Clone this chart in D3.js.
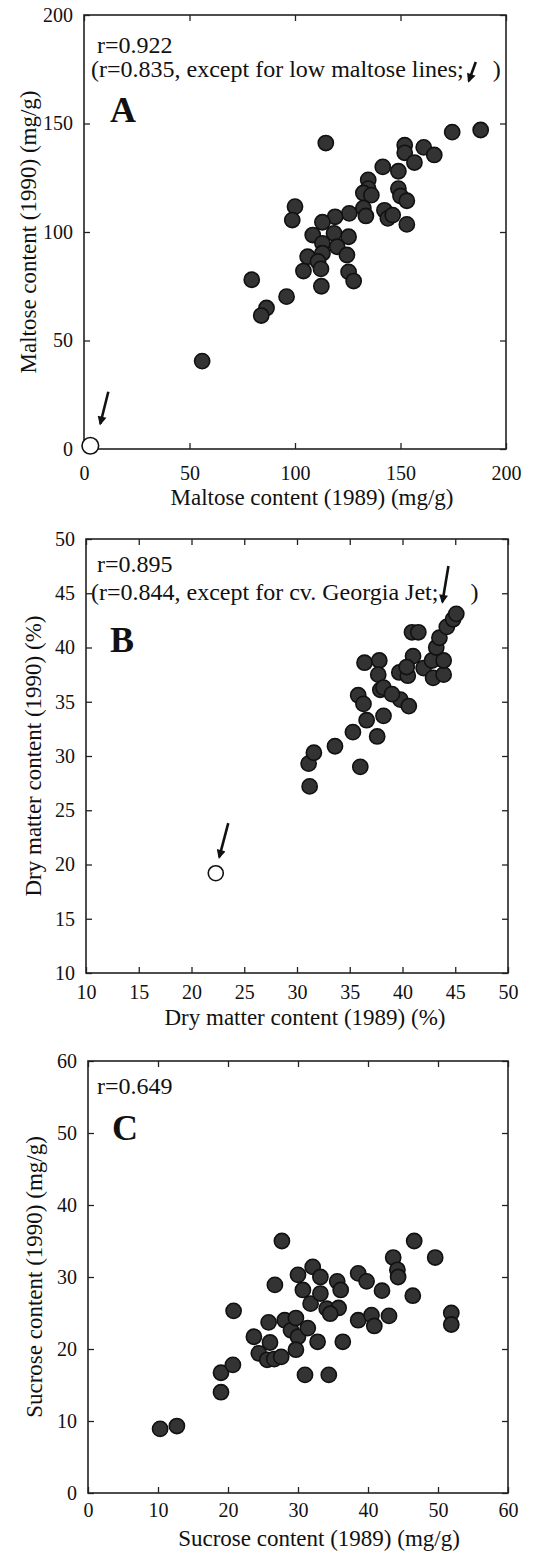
<!DOCTYPE html>
<html>
<head>
<meta charset="utf-8">
<script src="https://cdnjs.cloudflare.com/ajax/libs/d3/7.8.5/d3.min.js"></script>
<style>
  body { margin: 0; background: #fff; }
  svg text { font-family: "Liberation Serif", "Times New Roman", serif; fill: #111; }
</style>
</head>
<body>
<div id="chart"></div>
<script>
// Panel A - maltose content, 1989 vs 1990 (mg/g)
const maltose1989 = [188, 174.5, 114.6, 152, 152, 161, 166, 156.6, 141.6, 149, 134.7, 134.7, 132.4, 136.2, 149, 150, 153,
    100, 98.7, 132.4, 133.6, 142.4, 144, 146.3, 153, 125.7, 119, 113, 118.5, 125.4, 108.4, 113, 120, 124.6, 113, 106,
    110.9, 104, 112.3, 125.4, 127.8, 112.5, 96, 79.5, 86.5, 84, 56];
const maltose1990 = [147, 146, 141, 140, 136.5, 139, 135.5, 132, 130, 128, 124, 120, 118, 117, 120, 116.6, 114.4,
    111.7, 105.5, 111, 107.4, 110, 106.3, 107.8, 103.5, 108.6, 107, 104.5, 99.4, 97.8, 98.6, 94.8, 93.2, 89.4, 90.2, 88.6,
    86.4, 82, 83, 81.6, 77.4, 75, 70.2, 78, 65, 61.5, 40.5];
// low maltose lines (open circle)
const maltoseLow1989 = [3];
const maltoseLow1990 = [1.5];
const maltoseTicks = [0, 50, 100, 150, 200];

// Panel B - dry matter content, 1989 vs 1990 (%)
const dryMatter1989 = [31.2, 31.1, 31.6, 33.6, 36.0, 35.3, 36.6, 37.6, 38.2, 35.8, 36.3, 37.9, 39.8, 40.6,
    36.4, 37.8, 37.7, 38.2, 39.0, 39.7, 40.5, 41.0, 40.9, 41.5, 42.0, 42.9, 42.8, 43.9, 43.9, 43.2, 43.5, 44.2,
    44.8, 45.1, 40.4];
const dryMatter1990 = [27.2, 29.3, 30.3, 30.9, 29.0, 32.2, 33.3, 31.8, 33.7, 35.6, 34.8, 36.1, 35.2, 34.6,
    38.6, 38.8, 37.5, 36.3, 35.7, 37.7, 37.4, 39.2, 41.4, 41.4, 38.1, 37.2, 38.8, 37.5, 38.8, 40.0, 40.9, 41.9,
    42.6, 43.1, 38.2];
// cv. Georgia Jet (open circle)
const georgiaJet1989 = [22.3];
const georgiaJet1990 = [19.2];
const dryMatterTicks = [10, 15, 20, 25, 30, 35, 40, 45, 50];

// Panel C - sucrose content, 1989 vs 1990 (mg/g)
const sucrose1989 = [10.3, 12.7, 19.0, 19.0, 20.7, 20.8, 23.7, 24.4, 25.6, 26.6, 26.0, 25.8, 27.6, 26.7, 27.7, 28.1,
    29.0, 29.7, 30.0, 29.7, 30.0, 30.7, 31.4, 31.0, 31.8, 32.1, 32.8, 33.2, 33.2, 34.1, 34.4, 35.6, 36.1, 35.8, 34.6,
    36.4, 38.6, 39.8, 38.6, 40.5, 40.9, 42.0, 43.0, 43.6, 44.2, 44.3, 46.4, 46.6, 49.6, 51.9, 51.9];
const sucrose1990 = [8.9, 9.3, 16.7, 14.0, 17.8, 25.3, 21.7, 19.4, 18.5, 18.6, 20.9, 23.7, 18.9, 28.9, 35.0, 24.0,
    22.6, 24.3, 21.7, 19.9, 30.3, 28.2, 22.9, 16.4, 26.3, 31.4, 21.0, 30.0, 27.7, 25.6, 16.4, 29.4, 28.2, 25.7, 24.9,
    21.0, 30.5, 29.4, 24.0, 24.7, 23.2, 28.1, 24.6, 32.7, 31.0, 30.0, 27.4, 35.0, 32.7, 25.0, 23.4];
const sucroseTicks = [0, 10, 20, 30, 40, 50, 60];

const serif = '"Liberation Serif", "Times New Roman", serif';

const svg = d3.select("#chart").append("svg")
    .attr("width", 534)
    .attr("height", 1556);

// arrow head used by the pointer arrows
svg.append("defs").append("marker")
    .attr("id", "head")
    .attr("viewBox", "0 0 10 10")
    .attr("refX", 8).attr("refY", 5)
    .attr("markerWidth", 10).attr("markerHeight", 9)
    .attr("markerUnits", "userSpaceOnUse")
    .attr("orient", "auto")
    .append("path")
    .attr("d", "M0,0 L10,5 L0,10 z")
    .attr("fill", "#111");

function arrow(x1, y1, x2, y2) {
    svg.append("line")
        .attr("x1", x1).attr("y1", y1)
        .attr("x2", x2).attr("y2", y2)
        .attr("stroke", "#111")
        .attr("stroke-width", 2.6)
        .attr("marker-end", "url(#head)");
}

function drawPanel(p) {
    const x = d3.scaleLinear().domain(p.xDomain).range([p.left, p.right]);
    const y = d3.scaleLinear().domain(p.yDomain).range([p.bottom, p.top]);
    const g = svg.append("g");

    // axes, ticks pointing inwards on all four sides
    const bottom = g.append("g").attr("transform", `translate(0,${p.bottom})`)
        .call(d3.axisBottom(x).tickValues(p.xTicks).tickSize(-6).tickPadding(p.xPad));
    const left = g.append("g").attr("transform", `translate(${p.left},0)`)
        .call(d3.axisLeft(y).tickValues(p.yTicks).tickSize(-6).tickPadding(11));
    g.append("g").attr("transform", `translate(0,${p.top})`)
        .call(d3.axisTop(x).tickValues(p.xTicks).tickSize(-6).tickFormat(""));
    g.append("g").attr("transform", `translate(${p.right},0)`)
        .call(d3.axisRight(y).tickValues(p.yTicks).tickSize(-6).tickFormat(""));
    g.selectAll(".domain").remove();
    g.selectAll(".tick line").attr("stroke", "#222").attr("stroke-width", 1.3);
    bottom.selectAll("text").style("font-size", "20px");
    left.selectAll("text").style("font-size", "20px");

    g.append("rect")
        .attr("x", p.left).attr("y", p.top)
        .attr("width", p.right - p.left).attr("height", p.bottom - p.top)
        .attr("fill", "none").attr("stroke", "#222").attr("stroke-width", 1.6);

    // axis titles
    g.append("text")
        .attr("x", p.xTitleX).attr("y", p.xTitleY)
        .attr("text-anchor", "middle")
        .style("font-size", "23px")
        .text(p.xTitle);
    g.append("text")
        .attr("transform", `translate(${p.yTitleX},${(p.top + p.bottom) / 2}) rotate(-90)`)
        .attr("text-anchor", "middle")
        .style("font-size", "23px")
        .text(p.yTitle);

    // r values and panel letter
    g.append("text").attr("x", 97).attr("y", p.top + p.rY)
        .style("font-size", "24px").text(p.r);
    if (p.note) {
        const note = g.append("text").attr("x", 91).attr("y", p.top + p.noteY)
            .style("font-family", serif)
            .style("font-size", "24px").text(p.note);
        const end = 91 + note.node().getComputedTextLength();
        arrow(end + p.noteArrow[0], p.top + p.noteArrow[1], end + p.noteArrow[2], p.top + p.noteArrow[3]);
        g.append("text").attr("x", end + p.closeX).attr("y", p.top + p.noteY)
            .style("font-size", "24px").text(")");
    }
    g.append("text").attr("x", p.letterX).attr("y", p.top + p.letterY)
        .style("font-size", "36px").style("font-weight", "bold")
        .text(p.letter);

    // every text in serif, also the axis labels d3 gives a sans-serif default
    g.selectAll("text").style("font-family", serif).attr("fill", "#111");

    // filled points
    g.selectAll(".dot")
        .data(p.xs)
        .enter().append("circle")
        .attr("class", "dot")
        .attr("cx", d => x(d))
        .attr("cy", (d, i) => y(p.ys[i]))
        .attr("r", 7.6)
        .attr("fill", "#333")
        .attr("stroke", "#111")
        .attr("stroke-width", 1.6);

    // open circle outlier with its pointer
    if (p.openX) {
        g.selectAll(".open")
            .data(p.openX)
            .enter().append("circle")
            .attr("class", "open")
            .attr("cx", d => x(d))
            .attr("cy", (d, i) => y(p.openY[i]))
            .attr("r", p.openR)
            .attr("fill", "#fff")
            .attr("stroke", "#111")
            .attr("stroke-width", 1.6);
        const ox = x(p.openX[0]), oy = y(p.openY[0]);
        arrow(ox + p.openArrow[0], oy + p.openArrow[1], ox + p.openArrow[2], oy + p.openArrow[3]);
    }
}

drawPanel({
    left: 84, right: 506, top: 15, bottom: 449,
    xDomain: [0, 200], yDomain: [0, 200], xTicks: maltoseTicks, yTicks: maltoseTicks, xPad: 17,
    xs: maltose1989, ys: maltose1990, openX: maltoseLow1989, openY: maltoseLow1990, openR: 8.3,
    openArrow: [18, -54, 10, -22],
    xTitle: "Maltose content (1989) (mg/g)", xTitleX: 312, xTitleY: 505,
    yTitle: "Maltose content (1990) (mg/g)", yTitleX: 36,
    r: "r=0.922", rY: 38,
    note: "(r=0.835, except for low maltose lines;", noteY: 62, noteArrow: [12, 47, 5, 66], closeX: 29,
    letter: "A", letterX: 110, letterY: 107
});

drawPanel({
    left: 86, right: 508, top: 539, bottom: 973,
    xDomain: [10, 50], yDomain: [10, 50], xTicks: dryMatterTicks, yTicks: dryMatterTicks, xPad: 12,
    xs: dryMatter1989, ys: dryMatter1990, openX: georgiaJet1989, openY: georgiaJet1990, openR: 7.5,
    openArrow: [12.5, -50, 3.5, -16],
    xTitle: "Dry matter content (1989) (%)", xTitleX: 305, xTitleY: 1025,
    yTitle: "Dry matter content (1990) (%)", yTitleX: 41,
    r: "r=0.895", rY: 33,
    note: "(r=0.844, except for cv. Georgia Jet;", noteY: 61, noteArrow: [10, 27, 4, 63], closeX: 32,
    letter: "B", letterX: 110, letterY: 113
});

drawPanel({
    left: 88, right: 508, top: 1061, bottom: 1493,
    xDomain: [0, 60], yDomain: [0, 60], xTicks: sucroseTicks, yTicks: sucroseTicks, xPad: 10,
    xs: sucrose1989, ys: sucrose1990,
    xTitle: "Sucrose content (1989) (mg/g)", xTitleX: 319, xTitleY: 1546,
    yTitle: "Sucrose content (1990) (mg/g)", yTitleX: 42,
    r: "r=0.649", rY: 33,
    letter: "C", letterX: 112, letterY: 79
});
</script>
</body>
</html>
